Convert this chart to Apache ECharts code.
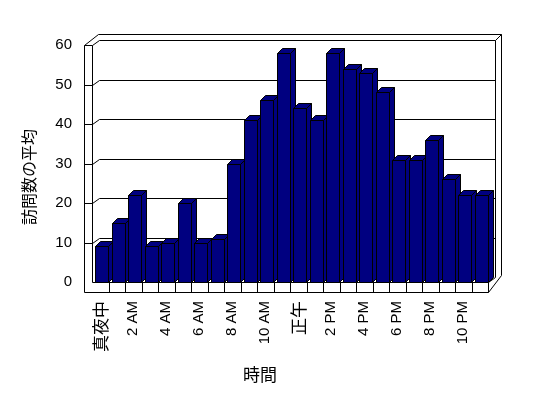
<!DOCTYPE html>
<html>
<head>
<meta charset="utf-8">
<script src="https://cdn.jsdelivr.net/npm/echarts@6/dist/echarts.min.js"></script>
<style>html,body{margin:0;padding:0;background:#fff;}#c{width:548px;height:398px;}</style>
</head>
<body>
<div id="c"></div>
<script>
const hours = ['真夜中','1 AM','2 AM','3 AM','4 AM','5 AM','6 AM','7 AM','8 AM','9 AM','10 AM','11 AM',
  '正午','1 PM','2 PM','3 PM','4 PM','5 PM','6 PM','7 PM','8 PM','9 PM','10 PM','11 PM'];
const visits = [9,15,22,9,10,20,10,11,30,41,46,58,44,41,58,54,53,48,31,31,36,26,22,22];
const yTicks = [0,10,20,30,40,50,60];
const yAxisName = '訪問数の平均';
const xAxisName = '時間';

const LAT = '"Liberation Sans", "Noto Sans CJK JP", sans-serif';
const CJK = '"Noto Sans CJK JP", "Liberation Sans", sans-serif';
const p = v => Math.round(v) + 0.5;
function ln(x1, y1, x2, y2) {
  return { type: 'line', shape: { x1: p(x1), y1: p(y1), x2: p(x2), y2: p(y2) },
    style: { stroke: '#000', lineWidth: 1 } };
}

const chart = echarts.init(document.getElementById('c'), null, { renderer: 'canvas' });
chart.setOption({
  animation: false,
  backgroundColor: '#fff',
  grid: { left: 92, right: 60, top: 45, bottom: 116 },
  xAxis: {
    type: 'category', data: hours,
    axisLine: { show: false }, axisTick: { show: false }, splitLine: { show: false },
    axisLabel: {
      interval: 1, rotate: 90, margin: 19, color: '#000', fontSize: 15, fontFamily: LAT,
      formatter: function (s) { return /[A-Z0-9]/.test(s) ? s : '{c|' + s + '}'; },
      rich: { c: { fontSize: 17, fontFamily: CJK, color: '#000' } }
    }
  },
  yAxis: {
    type: 'value', min: 0, max: 60, interval: 10,
    axisLine: { show: false }, axisTick: { show: false }, splitLine: { show: false },
    axisLabel: { margin: 20, color: '#000', fontSize: 15, fontFamily: LAT }
  },
  graphic: [
    { type: 'text', x: 29, y: 177, rotation: Math.PI / 2,
      style: { text: yAxisName, fill: '#000', fontSize: 16, fontFamily: CJK, align: 'center', verticalAlign: 'middle' } },
    { type: 'text', x: 260, y: 375,
      style: { text: xAxisName, fill: '#000', fontSize: 17, fontFamily: CJK, align: 'center', verticalAlign: 'middle' } }
  ],
  series: [
    {
      type: 'custom', z: 1, silent: true, clip: false,
      data: yTicks.map(v => [0, v]),
      renderItem: function (params, api) {
        const cs = params.coordSys;
        const X0 = cs.x, X1 = cs.x + cs.width;
        const Y0 = api.coord([0, 0])[1];
        const YT = api.coord([0, 60])[1];
        const v = api.value(1);
        const f = api.coord([0, v])[1];
        const Xl = X0 - 8, Yb = Y0 + 10;
        const ch = [];
        if (v > 0) {
          ch.push(ln(Xl, f, X0, f));
          ch.push(ln(X0, f, X0 + 7, f - 5));
          ch.push(ln(X0 + 7, f - 5, X1 + 7, f - 5));
        }
        if (params.dataIndex === 0) {
          ch.push(ln(Xl, YT, Xl, Yb));
          ch.push(ln(X0, YT, X0, Y0));
          ch.push(ln(Xl, YT, Xl + 14, YT - 11));
          ch.push(ln(Xl + 14, YT - 11, X1 + 13, YT - 11));
          ch.push(ln(X1 + 7, YT - 5, X1 + 7, Y0 - 5));
          ch.push(ln(X1 + 7, YT - 5, X1 + 13, YT - 11));
          ch.push(ln(X1 + 13, YT - 11, X1 + 13, Y0 - 7));
          ch.push(ln(X1, Yb, X1 + 13, Y0 - 7));
          ch.push(ln(X1, Y0, X1 + 7, Y0 - 5));
          ch.push(ln(X0, Y0, X1, Y0));
          ch.push(ln(Xl, Yb, X1, Yb));
          ch.push(ln(X1, Y0, X1, Yb));
          const bw = cs.width / hours.length;
          for (let k = 1; k < hours.length; k++) {
            ch.push(ln(X0 + bw * k, Y0, X0 + bw * k, Yb));
          }
        }
        return { type: 'group', children: ch };
      }
    },
    {
      type: 'custom', z: 2, silent: true, clip: false,
      data: visits.map((v, i) => [i, v]),
      renderItem: function (params, api) {
        const i = api.value(0), v = api.value(1);
        const c = api.coord([i, v]);
        const c0 = api.coord([i, 0]);
        const L = p(c[0] - 5.2), R = L + 13;
        const T = p(c[1]), B = p(c0[1]);
        const dx = 5, dy = -5;
        const st = { fill: '#000080', stroke: '#000', lineWidth: 1 };
        return {
          type: 'group',
          children: [
            { type: 'polygon', shape: { points: [[R, T], [R + dx, T + dy], [R + dx, B + dy], [R, B]] }, style: st },
            { type: 'polygon', shape: { points: [[L, T], [R, T], [R + dx, T + dy], [L + dx, T + dy]] }, style: st },
            { type: 'rect', shape: { x: L, y: T, width: R - L, height: B - T }, style: st }
          ]
        };
      }
    }
  ]
});
</script>
</body>
</html>
